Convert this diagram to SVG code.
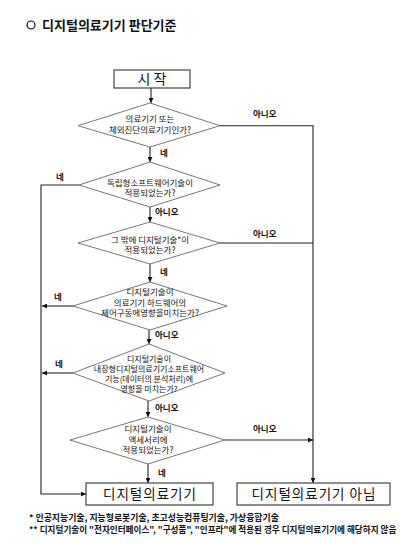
<svg xmlns="http://www.w3.org/2000/svg" width="417" height="546" viewBox="0 0 417 546">
<defs>
<style>
text{font-family:"Noto Sans CJK KR","Noto Sans",sans-serif;fill:#111;}
.t{font-size:13px;font-weight:bold;}
.q{font-size:8.5px;text-anchor:middle;}
.q2{font-size:8px;text-anchor:middle;}
.l{font-size:8.5px;font-weight:bold;}
.b{font-size:13.5px;letter-spacing:1px;text-anchor:middle;}
.f{font-weight:bold;}
.box{fill:#fff;stroke:#444;stroke-width:1.2;}
.dia{fill:#fff;stroke:#777;stroke-width:1;}
.ln{fill:none;stroke:#222;stroke-width:1.1;}
</style>
<marker id="ah" viewBox="0 0 8 8" refX="8" refY="4" markerWidth="5" markerHeight="5" orient="auto" markerUnits="userSpaceOnUse">
<path d="M0,0 L8,4 L0,8 z" fill="#111"/>
</marker>
</defs>
<rect width="417" height="546" fill="#fff"/>
<g id="title">
<circle cx="31" cy="25" r="4" fill="none" stroke="#111" stroke-width="1.2"/>
<text class="t" x="42" y="29.5">디지털의료기기 판단기준</text>
</g>
<g id="connectors">
<line class="ln" x1="151" y1="88" x2="151" y2="103" marker-end="url(#ah)"/>
<line class="ln" x1="150" y1="147" x2="150" y2="162" marker-end="url(#ah)"/>
<line class="ln" x1="150" y1="207" x2="150" y2="222" marker-end="url(#ah)"/>
<line class="ln" x1="150" y1="264" x2="150" y2="282" marker-end="url(#ah)"/>
<line class="ln" x1="149" y1="330" x2="149" y2="344" marker-end="url(#ah)"/>
<line class="ln" x1="148" y1="401" x2="148" y2="417" marker-end="url(#ah)"/>
<line class="ln" x1="148" y1="464" x2="148" y2="483" marker-end="url(#ah)"/>
<polyline class="ln" points="220,125.7 313,125.7 313,483" marker-end="url(#ah)"/>
<line class="ln" x1="220" y1="243" x2="313" y2="243"/>
<line class="ln" x1="225" y1="440" x2="313" y2="440" marker-end="url(#ah)"/>
<polyline class="ln" points="79,185 41,185 41,494 86,494" marker-end="url(#ah)"/>
<line class="ln" x1="73" y1="306" x2="42" y2="306" marker-end="url(#ah)"/>
<line class="ln" x1="73" y1="373" x2="42" y2="373" marker-end="url(#ah)"/>
<text class="l" x="253" y="117">아니오</text>
<text class="l" x="160" y="156">네</text>
<text class="l" x="56" y="180">네</text>
<text class="l" x="155" y="215">아니오</text>
<text class="l" x="253" y="237">아니오</text>
<text class="l" x="160" y="275">네</text>
<text class="l" x="54" y="300">네</text>
<text class="l" x="155" y="338">아니오</text>
<text class="l" x="55" y="367">네</text>
<text class="l" x="155" y="411">아니오</text>
<text class="l" x="253" y="432">아니오</text>
<text class="l" x="158" y="476">네</text>
</g>
<g id="start">
<rect class="box" x="114" y="70" width="76" height="18"/>
<text x="152" y="84" font-size="14" text-anchor="middle">시 작</text>
</g>
<g id="d1">
<polygon class="dia" points="150,103 220,125.7 150,147 78,125.7"/>
<text class="q" x="150" y="121.5">의료기기 또는</text>
<text class="q" x="150" y="132.5">체외진단의료기기인가?</text>
</g>
<g id="d2">
<polygon class="dia" points="150,162 220,185 150,207 79,185"/>
<text class="q" x="150" y="185.5">독립형소프트웨어기술이</text>
<text class="q" x="150" y="196">적용되었는가?</text>
</g>
<g id="d3">
<polygon class="dia" points="150,222 220,243 150,264 78,243"/>
<text class="q" x="150" y="242.5">그 밖에 디지털기술*이</text>
<text class="q" x="150" y="253">적용되었는가?</text>
</g>
<g id="d4">
<polygon class="dia" points="150,282 227,306 150,330 73,306"/>
<text class="q" x="150" y="295">디지털기술이</text>
<text class="q" x="150" y="305.5">의료기기 하드웨어의</text>
<text class="q" x="150" y="316">제어구동에영향을미치는가?</text>
</g>
<g id="d5">
<polygon class="dia" points="149,344 225,373 149,401 73,373"/>
<text class="q2" x="149" y="362">디지털기술이</text>
<text class="q2" x="149" y="372">내장형디지털의료기기소프트웨어</text>
<text class="q2" x="149" y="382">기능(데이터의 분석처리)에</text>
<text class="q2" x="149" y="392">영향을 미치는가?</text>
</g>
<g id="d6">
<polygon class="dia" points="148,417 225,440 148,464 70,440"/>
<text class="q" x="148" y="432">디지털기술이</text>
<text class="q" x="148" y="442.5">액세서리에</text>
<text class="q" x="148" y="453">적용되었는가?</text>
</g>
<g id="yes">
<rect class="box" x="86" y="483" width="127" height="22"/>
<text class="b" x="150" y="499">디지털의료기기</text>
</g>
<g id="no">
<rect class="box" x="237" y="483" width="153" height="22"/>
<text class="b" x="314" y="499">디지털의료기기 아님</text>
</g>
<g id="notes">
<text class="f" x="29" y="521" font-size="8.9">* 인공지능기술, 지능형로봇기술, 초고성능컴퓨팅기술, 가상융합기술</text>
<text class="f" x="29" y="533" font-size="8.6">** 디지털기술이 "전자인터페이스", "구성품", "인프라"에 적용된 경우 디지털의료기기에 해당하지 않음</text>
</g>
</svg>
